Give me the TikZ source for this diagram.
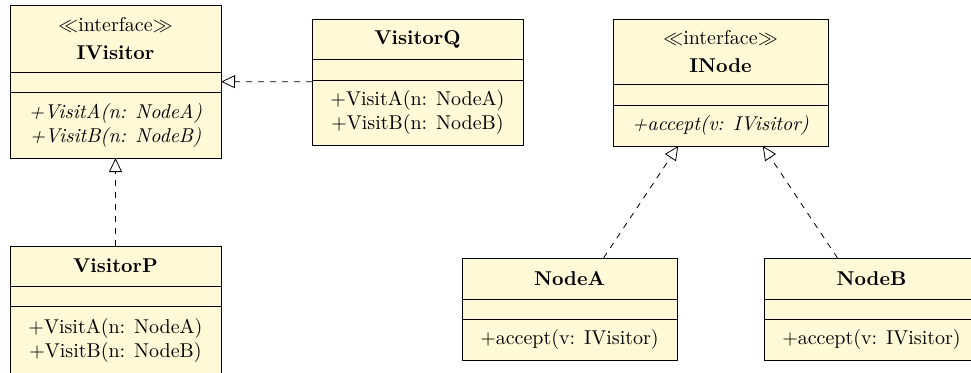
\documentclass[tikz,border=0pt]{standalone}
\usetikzlibrary{arrows.meta,fit}

\definecolor{classfill}{RGB}{255,249,215}

\tikzset{
  classpart/.style={draw=black, fill=classfill, line width=0.4pt,
    inner sep=0pt, outer sep=0pt, anchor=north west, align=center},
  classbox/.style={inner sep=0pt, outer sep=0pt, draw=none},
  realize/.style={draw=black, dashed, line width=0.4pt,
    -{Triangle[open,length=7pt,width=6.5pt]}},
}

% \umlclass{name}{left}{top}{width}{title h}{attribute h}{operation h}{title}{operations}
% (all sizes in half points, the unit of the picture)
\newcommand\umlclass[9]{%
  \node[classpart, minimum width={#4*0.5pt}, minimum height={#5*0.5pt}]
    (#1-t) at (#2,#3) {#8};
  \node[classpart, minimum width={#4*0.5pt}, minimum height={#6*0.5pt}]
    (#1-a) at (#1-t.south west) {};
  \node[classpart, minimum width={#4*0.5pt}, minimum height={#7*0.5pt}]
    (#1-o) at (#1-a.south west) {#9};
  \node[classbox, fit=(#1-t)(#1-o)] (#1) {};
}

\begin{document}
\begin{tikzpicture}[x=0.5pt, y=-0.5pt]
  \path[use as bounding box, clip] (0,0) rectangle (971,372);

  % visitor side
  \umlclass{IVisitor}{10}{5}{211}{67}{20}{66}
    {$\ll$interface$\gg$\\[2pt]\textbf{IVisitor}}
    {\textit{+VisitA(n: NodeA)}\\\textit{+VisitB(n: NodeB)}}
  \umlclass{VisitorQ}{312}{19}{211}{40}{21}{65}
    {\textbf{VisitorQ}}
    {+VisitA(n: NodeA)\\+VisitB(n: NodeB)}
  \umlclass{VisitorP}{10}{246}{211}{40}{20}{68}
    {\textbf{VisitorP}}
    {+VisitA(n: NodeA)\\+VisitB(n: NodeB)}

  % element side
  \umlclass{INode}{613}{19}{215}{65}{21}{41}
    {$\ll$interface$\gg$\\[2pt]\textbf{INode}}
    {\textit{+accept(v: IVisitor)}}
  \umlclass{NodeA}{462}{258}{215}{41}{20}{41}
    {\textbf{NodeA}}
    {+accept(v: IVisitor)}
  \umlclass{NodeB}{764}{258}{215}{41}{20}{41}
    {\textbf{NodeB}}
    {+accept(v: IVisitor)}

  % realizations
  \draw[realize] (VisitorQ) -- (IVisitor);
  \draw[realize] (VisitorP) -- (IVisitor);
  \draw[realize] (NodeA) -- (INode);
  \draw[realize] (NodeB) -- (INode);
\end{tikzpicture}
\end{document}
